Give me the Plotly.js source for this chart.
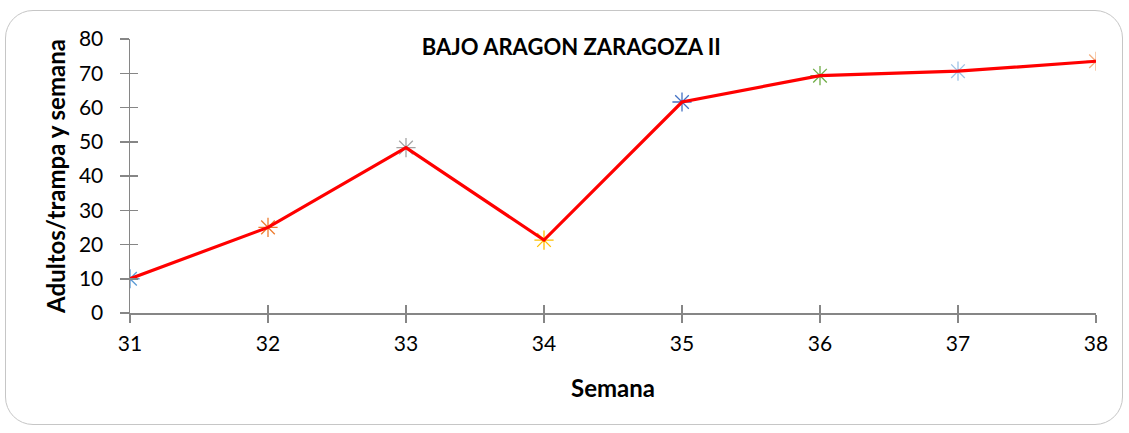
<!DOCTYPE html>
<html>
<head>
<meta charset="utf-8">
<script src="https://cdn.plot.ly/plotly-3.0.1.min.js"></script>
<style>
html,body{margin:0;padding:0;background:#fff;}
#frame{position:absolute;left:5px;top:10px;width:1118px;height:415px;border:1px solid #c6c6c6;border-radius:28px;box-sizing:border-box;}
#chart{position:absolute;left:0;top:0;width:1129px;height:433px;}
</style>
</head>
<body>
<div id="frame"></div>
<div id="chart"></div>
<script>
const semanas = [31, 32, 33, 34, 35, 36, 37, 38];
const adultos = [10, 25, 48.3, 21.3, 61.6, 69.3, 70.6, 73.5];
const markerColors = ['#5B9BD5', '#ED7D31', '#A5A5A5', '#FFC000', '#4472C4', '#70AD47', '#9DC3E6', '#F4B183'];
const yTicks = [0, 10, 20, 30, 40, 50, 60, 70, 80];
const chartTitle = 'BAJO ARAGON ZARAGOZA II';
const xTitle = 'Semana';
const yTitle = 'Adultos/trampa y semana';

const axisColor = '#868686';
const font = 'Lato, "Open Sans", sans-serif';

const traces = [
  {
    x: semanas, y: adultos, type: 'scatter', mode: 'markers',
    marker: {symbol: 'asterisk-open', size: 16, color: markerColors, line: {color: markerColors, width: 1.3}},
    hoverinfo: 'skip', showlegend: false
  },
  {
    x: semanas, y: adultos, type: 'scatter', mode: 'lines',
    line: {color: '#FF0000', width: 3.2},
    showlegend: false
  },
  {x: [31], y: [0], xaxis: 'x2', yaxis: 'y2', type: 'scatter', mode: 'markers', marker: {opacity: 0}, showlegend: false, hoverinfo: 'skip'}
];

const layout = {
  width: 1129, height: 433,
  paper_bgcolor: 'rgba(0,0,0,0)', plot_bgcolor: 'rgba(0,0,0,0)',
  margin: {l: 130, r: 33, t: 39, b: 120},
  font: {family: font, color: '#000'},
  title: {text: chartTitle, x: 0.506, xref: 'container', xanchor: 'center', y: 1 - 47/433, yref: 'container', yanchor: 'middle',
          font: {family: font, size: 22, color: '#000', weight: 'bold'}},
  xaxis: {
    range: [31, 38], tickvals: semanas, ticktext: semanas.map(String),
    showgrid: false, zeroline: false, showline: true, linecolor: axisColor, linewidth: 2,
    ticks: 'outside', ticklen: 8, tickwidth: 1.5, tickcolor: axisColor,
    ticklabelstandoff: 3,
    tickfont: {family: font, size: 21, color: '#000'},
    title: {text: xTitle, standoff: 26, font: {family: font, size: 24, color: '#000', weight: 'bold'}}
  },
  yaxis: {
    range: [0, 80], tickvals: yTicks,
    showgrid: false, zeroline: false, showline: true, linecolor: axisColor, linewidth: 1.5,
    ticks: 'outside', ticklen: 9, tickwidth: 1.5, tickcolor: axisColor,
    ticklabelstandoff: 12,
    tickfont: {family: font, size: 21, color: '#000'},
    title: {text: yTitle, standoff: 6, font: {family: font, size: 24, color: '#000', weight: 'bold'}}
  },
  xaxis2: {overlaying: 'x', range: [31, 38], tickvals: semanas, showticklabels: false, showgrid: false, zeroline: false,
           showline: false, ticks: 'inside', ticklen: 8, tickwidth: 1.5, tickcolor: axisColor, side: 'bottom', anchor: 'y2'},
  yaxis2: {overlaying: 'y', range: [0, 80], tickvals: yTicks, showticklabels: false, showgrid: false, zeroline: false,
           showline: false, ticks: 'inside', ticklen: 8, tickwidth: 1.5, tickcolor: axisColor, side: 'left', anchor: 'x2'}
};

Plotly.newPlot('chart', traces, layout, {displayModeBar: false, staticPlot: true});
</script>
</body>
</html>
